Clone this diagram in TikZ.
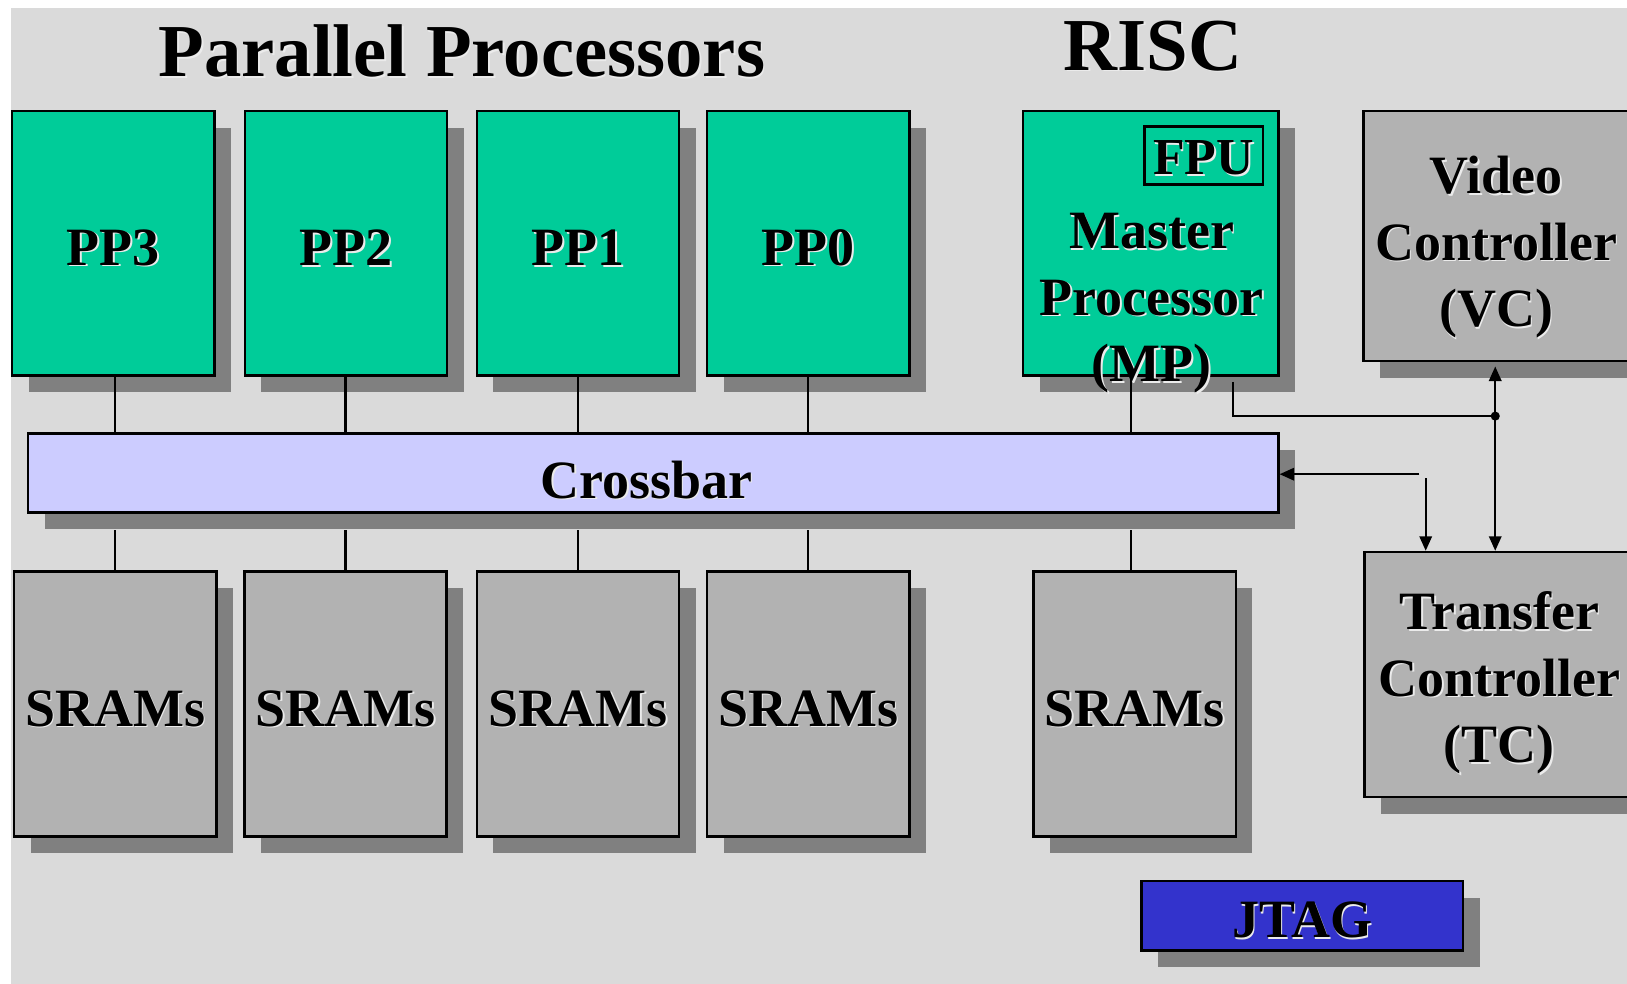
\documentclass[tikz,border=0pt]{standalone}
\usepackage{fontspec}
\setmainfont{Liberation Serif}
\usetikzlibrary{shadows,arrows.meta,calc}
\definecolor{bgc}{RGB}{218,218,218}
\definecolor{ppgreen}{RGB}{0,204,153}
\definecolor{boxgray}{RGB}{178,178,178}
\definecolor{shd}{RGB}{128,128,128}
\definecolor{xbarc}{RGB}{204,204,255}
\definecolor{jtagc}{RGB}{51,51,204}
\definecolor{embc}{RGB}{235,235,235}
\newcommand\emb[1]{\leavevmode\rlap{\kern0.75pt\raisebox{-0.75pt}{\textcolor{embc}{#1}}}#1}
\newcommand\bxt[1]{\raisebox{-2.5pt}[\height][\depth]{\emb{#1}}}
\begin{document}
\begin{tikzpicture}[x=0.5pt,y=-0.5pt,
  blk/.style={draw=black,line width=1.2pt,inner sep=0pt,
    drop shadow={shadow xshift=8pt,shadow yshift=-8pt,fill=shd,opacity=1},
    font=\fontsize{26}{32}\selectfont\bfseries,align=center},
  pp/.style={blk,fill=ppgreen,minimum width=97.5pt,minimum height=127.5pt},
  sram/.style={blk,fill=boxgray,minimum width=97.5pt,minimum height=127.5pt},
  ctl/.style={blk,fill=boxgray,minimum width=130pt},
  lbl/.style={inner sep=0pt,font=\fontsize{26}{32}\selectfont\bfseries,align=center},
  ttl/.style={inner sep=0pt,font=\fontsize{36}{40}\selectfont\bfseries},
  conn/.style={line width=1pt},
  tip/.style={-{Triangle[length=7pt,width=6pt]}},
]
\useasboundingbox (0,0) rectangle (1568,948);
\clip (0,0) rectangle (1568,948);
\fill[bgc] (11,8) rectangle (1580,960);

% titles
\node[ttl] (title) at (445,50) {\emb{Parallel Processors}};
\node[ttl] (risc) at (1111,45) {\emb{RISC}};

% parallel processors
\node[pp] (PP3) at (109,234.5) {\bxt{PP3}};
\node[pp] (PP2) at (333.5,234.5) {\bxt{PP2}};
\node[pp] (PP1) at (557,234.5) {\bxt{PP1}};
\node[pp] (PP0) at (779,234.5) {\bxt{PP0}};

% master processor
\node[blk,fill=ppgreen,minimum width=123pt,minimum height=127.5pt] (MP) at (1109,234.5) {};
\node[draw=black,line width=1.2pt,fill=ppgreen,minimum width=57pt,minimum height=28pt,inner sep=0pt,
  font=\fontsize{25}{30}\selectfont\bfseries] (FPU) at (1160,150) {\raisebox{-1.5pt}[\height][\depth]{\emb{FPU}}};
\node[lbl] (MPtext) at (1110,293) {\emb{Master}\\\emb{Processor}\\\emb{(MP)}};

% video controller
\node[ctl,fill=boxgray,minimum height=120.5pt] (VC) at (1444,227.5) {};
\node[lbl] (VCtext) at (1442,239) {\emb{Video}\\\emb{Controller}\\\emb{(VC)}};

% crossbar
\node[blk,fill=xbarc,minimum width=602.5pt,minimum height=38pt] (xbar) at (629.5,456) {};
\node[lbl] (xbartext) at (623,463) {\emb{Crossbar}};

% SRAMs
\node[sram] (S3) at (111,678.5) {\bxt{SRAMs}};
\node[sram] (S2) at (333,678.5) {\bxt{SRAMs}};
\node[sram] (S1) at (557,678.5) {\bxt{SRAMs}};
\node[sram] (S0) at (779,678.5) {\bxt{SRAMs}};
\node[sram] (SM) at (1093.5,678.5) {\bxt{SRAMs}};

% transfer controller
\node[ctl,fill=boxgray,minimum height=118pt] (TC) at (1445,650) {};
\node[lbl] (TCtext) at (1445,659) {\emb{Transfer}\\\emb{Controller}\\\emb{(TC)}};

% JTAG
\node[blk,fill=jtagc,minimum width=155pt,minimum height=33.5pt] (JTAG) at (1255,882.5) {\bxt{JTAG}};

% connectors PP -> crossbar
\coordinate (a3) at (111,362); \coordinate (a2) at (333,362);
\coordinate (a1) at (557,362); \coordinate (a0) at (779,362);
\coordinate (am) at (1090,362);
\foreach \c in {a3,a2,a1,a0,am}{
  \draw[conn] (\c) -- (\c |- xbar.north);
}
% connectors crossbar -> SRAMs
\foreach \s in {S3,S2,S1,S0}{
  \draw[conn] ([yshift=-8pt]xbar.south -| \s.north) -- (\s.north);
}
\draw[conn] ([yshift=-8pt]xbar.south -| am) -- (am |- SM.north);

% MP -> VC/TC bus
\coordinate (jn) at (1441,401);
\coordinate (m1) at (1188,368);
\draw[conn] (m1) -- (m1 |- jn) -- (jn);
\fill (jn) circle[radius=2.2pt];
\draw[conn,tip] (jn) -- ([yshift=-2pt]jn |- VC.south);
\draw[conn,tip] (jn) -- (jn |- TC.north);

% TC -> crossbar
\coordinate (c1) at (1368,457);
\coordinate (c2) at (1374,461);
\draw[conn,tip] (c1) -- (c1 -| xbar.east);
\draw[conn,tip] (c2) -- (c2 |- TC.north);
\end{tikzpicture}
\end{document}
